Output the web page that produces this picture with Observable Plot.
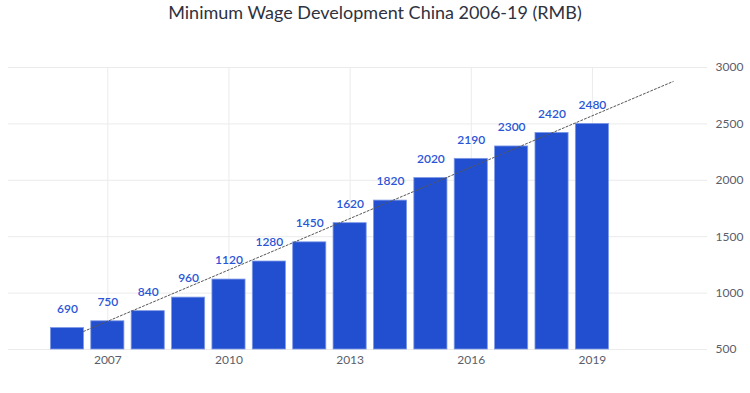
<!DOCTYPE html>
<html>
<head>
<meta charset="utf-8">
<script src="https://cdn.jsdelivr.net/npm/d3@7"></script>
<script src="https://cdn.jsdelivr.net/npm/@observablehq/plot@0.6"></script>
<style>
  html, body { margin: 0; padding: 0; background: #fff; }
  #title { height: 30px; line-height: 24px; text-align: center; font-family: Lato, "Open Sans", sans-serif; font-size: 18px; color: #2f3240; width: 750px; }
  #chart svg { display: block; }
</style>
</head>
<body>
<div id="title">Minimum Wage Development China 2006-19 (RMB)</div>
<div id="chart"></div>
<script>
const years = [2006, 2007, 2008, 2009, 2010, 2011, 2012, 2013, 2014, 2015, 2016, 2017, 2018, 2019];
const barValues = [690, 750, 840, 960, 1120, 1280, 1450, 1620, 1820, 2020, 2190, 2300, 2420, 2500];
const labelValues = ["690", "750", "840", "960", "1120", "1280", "1450", "1620", "1820", "2020", "2190", "2300", "2420", "2480"];
const xTicks = [2007, 2010, 2013, 2016, 2019];
const yTicks = [500, 1000, 1500, 2000, 2500, 3000];
const trendX = [2006.4, 2021.0];
const trendY = [660, 2876];

const data = years.map((y, i) => ({year: y, value: barValues[i], label: labelValues[i]}));
const trend = trendX.map((x, i) => ({x, y: trendY[i]}));

const blue = "#224fd0";
const chart = Plot.plot({
  width: 750,
  height: 363,
  marginTop: 37,
  marginBottom: 44,
  marginLeft: 8,
  marginRight: 43,
  style: {fontFamily: "Lato, 'Open Sans', sans-serif", fontSize: "12px", color: "#5a5e6a", background: "#fff"},
  x: {domain: [2004.54, 2021.85], ticks: xTicks, tickFormat: d => String(d), label: null, tickSize: 0, tickPadding: 6},
  y: {domain: [500, 3000], ticks: yTicks, tickFormat: d => String(d), label: null, axis: "right", tickSize: 0, tickPadding: 8},
  marks: [
    Plot.gridY(yTicks, {stroke: "#ebebeb", strokeOpacity: 1}),
    Plot.gridX(xTicks, {stroke: "#ebebeb", strokeOpacity: 1}),
    Plot.rect(data, {x1: d => d.year - 0.41, x2: d => d.year + 0.41, y1: 500, y2: "value", fill: blue, stroke: "#7d98e6", strokeWidth: 0.8}),
    Plot.line(trend, {x: "x", y: "y", stroke: "#555", strokeWidth: 1, strokeDasharray: "2,2"}),
    Plot.text(data, {x: "year", y: "value", text: "label", dy: -19, fill: "#2a55d6", fontSize: 12, fontWeight: 600})
  ]
});
document.getElementById("chart").appendChild(chart);
</script>
</body>
</html>
